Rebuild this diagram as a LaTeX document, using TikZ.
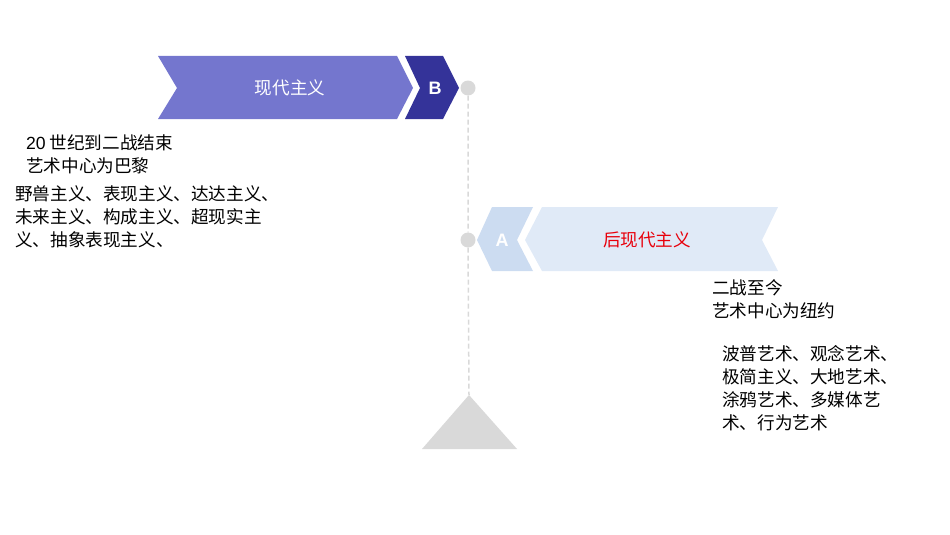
\documentclass[tikz,border=0pt]{standalone}
\usepackage{fontspec}
\setmainfont{Noto Sans CJK SC}
\newfontfamily\latinfont{Liberation Sans}
\definecolor{modernbar}{HTML}{7476CE}
\definecolor{modernb}{HTML}{343399}
\definecolor{posta}{HTML}{CCDCF1}
\definecolor{postbar}{HTML}{E0EAF7}
\definecolor{dotgray}{HTML}{D9D9D9}
\definecolor{redtxt}{HTML}{E8000B}
\tikzset{
  txt/.style={anchor=west, align=left, inner sep=0pt, font=\fontsize{17.6}{23}\selectfont, text=black},
  dotnode/.style={circle, fill=dotgray, minimum size=15pt, inner sep=0pt},
  lettertxt/.style={text=white, font=\latinfont\bfseries\fontsize{18}{20}\selectfont, inner sep=0pt},
  bartxt/.style={font=\fontsize{17.6}{20}\selectfont, inner sep=0pt}
}
\begin{document}
\begin{tikzpicture}[x=1pt, y=-1pt]
\useasboundingbox (0,0) rectangle (950,535);
% top banner
\fill[modernbar] (158,56) -- (397,56) -- (413,88) -- (397,119) -- (158,119) -- (177,88) -- cycle;
\fill[modernb] (405,56) -- (443,56) -- (459,88) -- (443,119) -- (405,119) -- (420,88) -- cycle;
\node[bartxt, text=white] (modern) at (290,88) {现代主义};
\node[lettertxt] (b) at (435,88) {B};
% bottom banner
\fill[posta] (492,207) -- (533,207) -- (517,240) -- (533,271) -- (492,271) -- (477,240) -- cycle;
\fill[postbar] (542,207) -- (778,207) -- (762,240) -- (778,271) -- (542,271) -- (525,240) -- cycle;
\node[lettertxt] (a) at (502,240) {A};
\node[bartxt, text=redtxt] (post) at (647,240) {后现代主义};
% axis
\coordinate (apex) at (469,395);
\node[dotnode] (dotb) at (468,88) {};
\node[dotnode] (dota) at (468,240) {};
\draw[dotgray, line width=1.5pt, dash pattern=on 5pt off 3pt] (dotb) -- (dota) -- (apex);
\fill[dotgray] (apex) -- (517,449) -- (422,449) -- cycle;
% left texts
\node[txt] (era1) at (26,154) {{\latinfont 20} 世纪到二战结束\\艺术中心为巴黎};
\node[txt] (list1) at (15,217) {野兽主义、表现主义、达达主义、\\未来主义、构成主义、超现实主\\义、抽象表现主义、};
% right texts
\node[txt] (era2) at (712,299) {二战至今\\艺术中心为纽约};
\node[txt] (list2) at (722,388) {波普艺术、观念艺术、\\极简主义、大地艺术、\\涂鸦艺术、多媒体艺\\术、行为艺术};
\end{tikzpicture}
\end{document}
